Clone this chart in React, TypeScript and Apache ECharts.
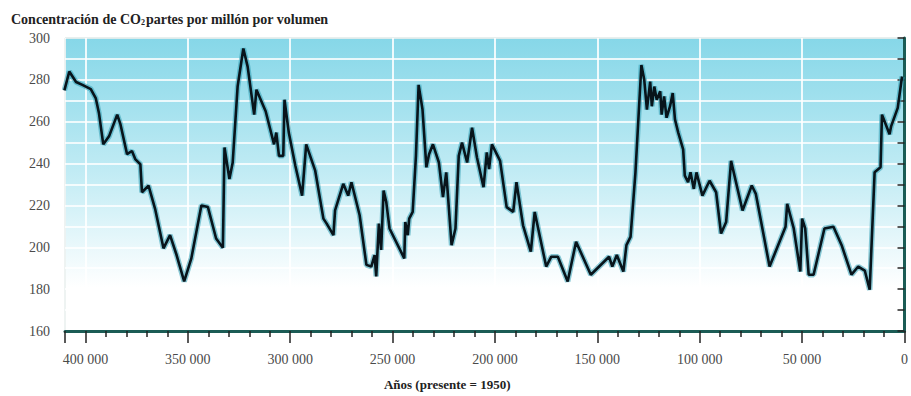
import React, { useEffect, useRef } from "react";
import * as echarts from "echarts";

// Years before present (1950) and CO2 concentration (ppmv)
const years: number[] = [
  410300, 407900, 404600, 401500, 397400, 395000, 393400, 391300, 388500, 384500,
  382900, 379700, 377300, 375600, 373200, 372400, 369200, 366000, 361900, 358700,
  355500, 351800, 348300, 343400, 340200, 336200, 332900, 332100, 329700, 328100,
  325700, 322900, 320800, 317600, 316500, 312000, 307900, 306800, 305500, 303400,
  302800, 300700, 297500, 294200, 292200, 287800, 283800, 282200, 278900, 278100,
  274100, 271700, 270100, 266100, 262800, 260400, 258800, 258000, 256700, 255600,
  254400, 253100, 251500, 244300, 243800, 242600, 241900, 240200, 238600, 237300,
  235400, 233500, 232200, 230300, 227400, 225400, 223800, 221200, 219300, 217700,
  216100, 213600, 211200, 208800, 205600, 204000, 202900, 201500, 197500, 194300,
  191100, 189500, 186300, 182500, 180600, 175000, 172500, 169300, 164500, 160400,
  153200, 144300, 142700, 140500, 137300, 135800, 133800, 131400, 129800, 128500,
  127100, 125800, 124200, 123400, 122200, 121000, 119300, 118600, 117400, 116200,
  114500, 113200, 112100, 110500, 108100, 107300, 105700, 104500, 102900, 101600,
  98700, 95200, 92000, 89600, 87100, 84700, 79100, 74600, 72600, 65900,
  58100, 57300, 54100, 50900, 50000, 48500, 46800, 44400, 39100, 34700,
  30700, 25900, 22600, 19400, 17000, 14600, 11700, 11000, 7300, 6500,
  3300, 1200,
];
const co2: number[] = [
  275, 284, 279, 277.6, 275.6, 271.3, 264, 249.2, 253, 263.4,
  258.7, 244.5, 246, 242, 239.7, 226.3, 229.5, 218.4, 199.5, 205.8,
  196.3, 183.7, 194.7, 220, 219.2, 204.2, 199.8, 247.7, 232.6, 240.5,
  276.8, 295, 286.3, 263.4, 275.3, 265, 249.2, 254.8, 243.7, 243.7,
  270.5, 254.8, 239, 224.7, 249.2, 236.6, 213.7, 211.3, 205.8, 217.6,
  230.3, 224.7, 231.1, 215.3, 191.6, 190.8, 196.3, 186.1, 211.3, 198.7,
  227.1, 221.6, 209, 194.7, 212.1, 205.8, 213.7, 216.9, 243.7, 277.6,
  265.8, 238.2, 244.5, 249.2, 240.5, 224, 235.8, 201, 209, 243.7,
  250, 240.5, 257.1, 242.9, 228.7, 245.3, 237.4, 249.2, 241.3, 219.2,
  216.9, 231.1, 210.5, 197.9, 216.9, 190.8, 195.5, 195.5, 183.7, 202.6,
  186.9, 195.5, 190.8, 196.3, 188.4, 201, 205, 235.8, 264.2, 287.1,
  280, 265.8, 279.2, 267.4, 276.8, 270.5, 274.5, 263.4, 272.1, 261.9,
  267.4, 273.7, 261.1, 254.8, 246.8, 234.2, 231.1, 235.8, 227.9, 235.8,
  224.7, 231.8, 226.3, 206.6, 212.1, 241.3, 217.6, 229.5, 225.5, 190.8,
  209.8, 220.8, 209, 188.4, 213.7, 209, 186.9, 186.9, 209, 209.8,
  201, 186.9, 190.8, 188.9, 179.7, 235.8, 238.2, 263.4, 254, 257.9,
  266.6, 281.6,
];

const titleText = "Concentración de CO{s|2}partes por millón por volumen";
const xAxisName = "Años (presente = 1950)";
const xMin = 0;
const xMax = 410000;
const xInterval = 50000;
const yMin = 160;
const yMax = 300;
const yInterval = 10;
const yLabelStep = 20;

const fmtThousands = (v: number) =>
  String(v).replace(/\B(?=(\d{3})+(?!\d))/g, " ");

export default function App() {
  const ref = useRef<HTMLDivElement>(null);
  useEffect(() => {
    if (!ref.current) return;
    const chart = echarts.init(ref.current, undefined, { renderer: "svg" });
    const data = years.map((y, i) => [y, co2[i]]);
    const serif = "Liberation Serif, Times New Roman, DejaVu Serif, serif";
    const axisColor = "#1b5c55";
    chart.setOption({
      animation: false,
      backgroundColor: "#ffffff",
      title: {
        text: titleText,
        left: 6,
        top: 7,
        textStyle: {
          fontFamily: serif,
          fontWeight: "bold",
          fontSize: 14,
          color: "#222222",
          rich: {
            s: {
              fontFamily: serif,
              fontWeight: "bold",
              fontSize: 8,
              color: "#222222",
              verticalAlign: "bottom",
              padding: [6, 1, 0, 0],
            },
          },
        },
      },
      grid: {
        left: 65,
        right: 1,
        top: 38,
        bottom: 63,
        show: true,
        borderWidth: 1,
        borderColor: axisColor,
        backgroundColor: new echarts.graphic.LinearGradient(0, 0, 0, 1, [
          { offset: 0, color: "#86d7e8" },
          { offset: 0.45, color: "#c0ebf4" },
          { offset: 0.85, color: "#ffffff" },
          { offset: 1, color: "#ffffff" },
        ]),
      },
      xAxis: {
        type: "value",
        inverse: true,
        min: xMin,
        max: xMax,
        interval: xInterval,
        name: xAxisName,
        nameLocation: "middle",
        nameGap: 47,
        nameTextStyle: {
          fontFamily: serif,
          fontWeight: "bold",
          fontSize: 13,
          color: "#222222",
          padding: [0, 75, 0, 0],
        },
        axisLine: { show: true, lineStyle: { color: axisColor, width: 3 } },
        axisTick: { show: true, length: 12, lineStyle: { color: "#222", width: 1.5 } },
        minorTick: { show: true, splitNumber: 5, length: 6, lineStyle: { color: "#222", width: 1.5 } },
        axisLabel: {
          margin: 21,
          fontFamily: serif,
          fontSize: 14,
          color: "#4a4a4a",
          formatter: (v: number) => (v % xInterval === 0 ? fmtThousands(v) : ""),
        },
        splitLine: { show: true, lineStyle: { color: "rgba(255,255,255,0.85)", width: 2 } },
      },
      yAxis: {
        type: "value",
        min: yMin,
        max: yMax,
        interval: yInterval,
        axisLine: { show: true, lineStyle: { color: axisColor, width: 3 } },
        axisTick: { show: true, length: 7, lineStyle: { color: "#222", width: 1.5 } },
        axisLabel: {
          margin: 15,
          fontFamily: serif,
          fontSize: 14,
          color: "#4a4a4a",
          formatter: (v: number) => (v % yLabelStep === 0 ? String(v) : ""),
        },
        splitLine: { show: true, lineStyle: { color: "rgba(255,255,255,0.8)", width: 2 } },
      },
      series: [
        {
          type: "line",
          data,
          symbol: "none",
          silent: true,
          lineStyle: { color: "#2f9db2", width: 5.5, opacity: 0.55 },
          z: 2,
        },
        {
          type: "line",
          data,
          symbol: "none",
          silent: true,
          lineStyle: { color: "#08141b", width: 2.6 },
          z: 3,
        },
      ],
    });
    return () => chart.dispose();
  }, []);
  return (
    <div
      ref={ref}
      style={{ position: "absolute", left: 0, top: 0, width: 911, height: 396 }}
    />
  );
}
